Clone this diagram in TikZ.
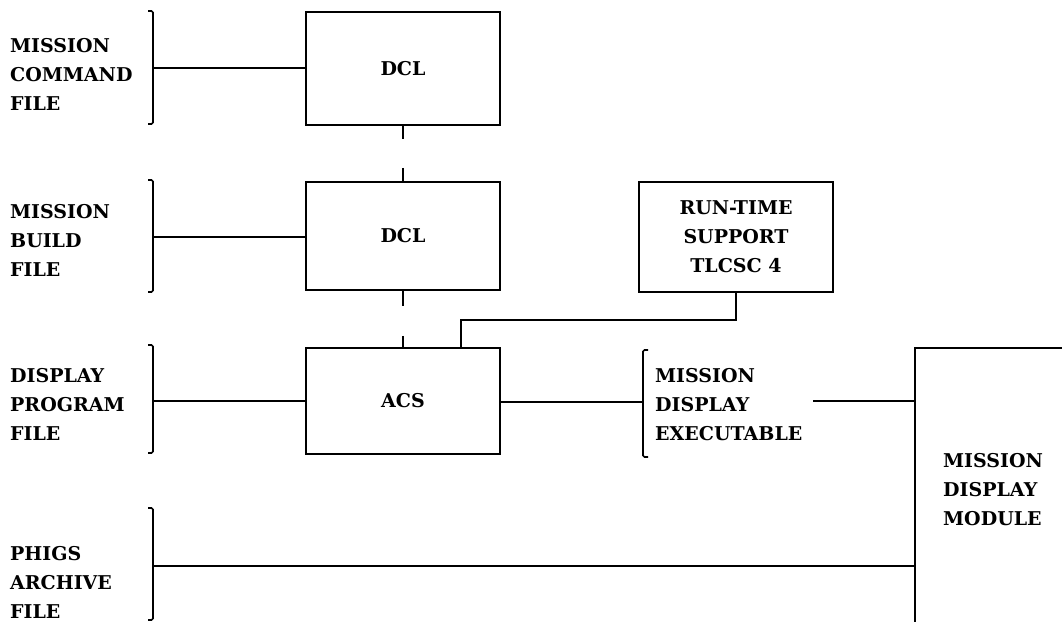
\documentclass[tikz,border=0pt]{standalone}
\usepackage{fontspec}
\setmainfont{DejaVu Serif}
\begin{document}
\begin{tikzpicture}[x=1pt,y=-1pt,
  every node/.style={font=\bfseries\fontsize{19}{29}\selectfont, inner sep=0pt, align=left},
  box/.style={draw, line width=1.7pt, minimum width=194pt, align=center},
  lbl/.style={anchor=west},
  wire/.style={line width=1.7pt},
  brk/.style={line width=1.7pt, rounded corners=1.5pt}]
\useasboundingbox (0,0) rectangle (1062,622);

% boxes
\node[box, minimum height=113pt] (dcl1) at (403,68.5) {DCL};
\node[box, minimum height=108pt] (dcl2) at (403,236) {DCL};
\node[box, minimum height=106pt] (acs) at (403,401) {ACS};
\node[box, minimum height=110pt] (rts) at (736,237) {RUN-TIME\\SUPPORT\\TLCSC 4};

% left labels
\node[lbl] (l1) at (10,74) {MISSION\\COMMAND\\FILE};
\node[lbl] (l2) at (10,240) {MISSION\\BUILD\\FILE};
\node[lbl] (l3) at (10,404) {DISPLAY\\PROGRAM\\FILE};
\node[lbl] (l4) at (10,582) {PHIGS\\ARCHIVE\\FILE};
\node[lbl] (ex) at (655,405) {MISSION\\DISPLAY\\EXECUTABLE};
\node[lbl] (mod) at (943,490) {MISSION\\DISPLAY\\MODULE};

% brackets
\draw[brk] (148,11) -- (153,11) -- (153,124) -- (148,124);
\draw[brk] (148,180) -- (153,180) -- (153,292) -- (148,292);
\draw[brk] (148,345) -- (153,345) -- (153,453) -- (148,453);
\draw[brk] (148,508) -- (153,508) -- (153,620) -- (148,620);
\draw[brk] (648,350) -- (643,350) -- (643,457) -- (648,457);

\coordinate (b1) at (153,68);
\coordinate (b2) at (153,237);
\coordinate (b3) at (153,401);
\coordinate (b4) at (153,566);
\coordinate (exl) at (643,402);
\coordinate (exr) at (813,401);
\coordinate (j) at (461,320);

% module box (cut off by the picture edge)
\draw[wire] (1062,348) -- (915,348) -- (915,622);
\coordinate (m1) at (915,401);
\coordinate (m2) at (915,566);

% connectors
\draw[wire] (b1) -- (dcl1.west |- b1);
\draw[wire] (b2) -- (dcl2.west |- b2);
\draw[wire] (b3) -- (acs.west |- b3);
\draw[wire] (b4) -- (m2);
\draw[wire] (acs.east |- exl) -- (exl);
\draw[wire] (exr) -- (m1);
\draw[wire, dash pattern=on 13pt off 29pt on 30pt] (dcl1.south) -- (dcl2.north);
\draw[wire, dash pattern=on 15pt off 30pt on 30pt] (dcl2.south) -- (acs.north);
\draw[wire] (rts.south) |- (j) -- (j |- acs.north);
\end{tikzpicture}
\end{document}
